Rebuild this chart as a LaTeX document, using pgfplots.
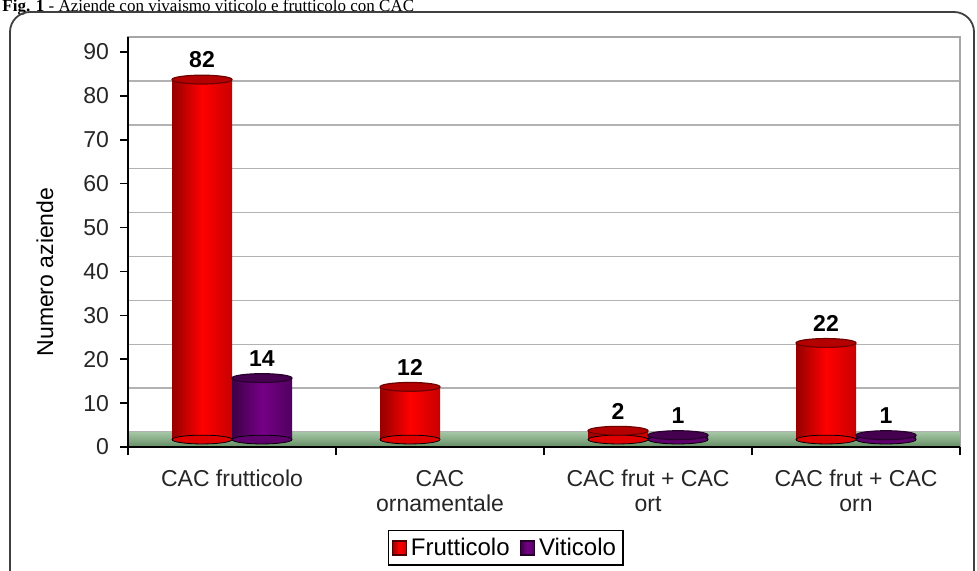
\documentclass[border=0pt]{standalone}
\usepackage{pgfplots}
\usepackage{pgfplotstable}
\pgfplotsset{compat=1.18}
\usepackage{fontspec}
\setmainfont{Liberation Sans}
\newfontfamily\titlefont{Liberation Serif}
\definecolor{rL}{RGB}{150,0,0}
\definecolor{rM}{RGB}{255,0,0}
\definecolor{rR}{RGB}{200,0,0}
\definecolor{rB}{RGB}{225,0,0}
\definecolor{rCap}{RGB}{180,0,0}
\definecolor{rCapE}{RGB}{110,0,0}
\definecolor{pL}{RGB}{60,0,70}
\definecolor{pM}{RGB}{118,0,135}
\definecolor{pR}{RGB}{80,0,95}
\definecolor{pB}{RGB}{95,0,110}
\definecolor{pCap}{RGB}{70,0,80}
\definecolor{pCapE}{RGB}{40,0,45}
\definecolor{floorT}{RGB}{165,198,165}
\definecolor{floorB}{RGB}{100,142,100}
\pgfdeclareplotmark{cap}{\pgfpathellipse{\pgfpointorigin}{\pgfqpoint{15pt}{0pt}}{\pgfqpoint{0pt}{2.2pt}}\pgfusepathqfillstroke}
\pgfplotstableread{
x v
0 82
1 12
2 2
3 22
}\frut
\pgfplotstableread{
x v
0 14
2 1
3 1
}\viti
\begin{document}
\begin{tikzpicture}
\useasboundingbox (0pt,0pt) rectangle (488.5pt,285pt);
\clip (0pt,0pt) rectangle (488.5pt,285pt);
\node[anchor=base west, font=\titlefont\fontsize{8.5}{10}\selectfont, inner sep=0] at (1pt,279.5pt) {\textbf{Fig. 1} - Aziende con vivaismo viticolo e frutticolo con CAC};
\draw[rounded corners=10pt, line width=0.9pt, black!75] (5pt,279pt) rectangle (487pt,-15pt);
\node[rotate=90, font=\fontsize{11.5}{13}\selectfont] at (22.5pt,149pt) {Numero aziende};
% background wall
\begin{axis}[at={(64pt,61.5pt)}, anchor=south west, scale only axis, width=416pt, height=205pt,
  xmin=-0.5, xmax=3.5, ymin=-1.7, ymax=91.7,
  xtick=\empty, ytick={1.7,11.7,21.7,31.7,41.7,51.7,61.7,71.7,81.7,91.7}, yticklabels={},
  major tick length=0pt, ymajorgrids, grid style={gray!60, line width=0.7pt},
  axis line style={gray!70, line width=0.8pt}]
\addplot[draw=none, top color=floorT, bottom color=floorB] coordinates {(-0.5,-1.7) (3.5,-1.7) (3.5,1.7) (-0.5,1.7)} -- cycle;
\end{axis}
% main axis
\begin{axis}[at={(64pt,61.5pt)}, anchor=south west, scale only axis, width=416pt, height=205pt,
  xmin=-0.5, xmax=3.5, ymin=-1.7, ymax=91.7,
  axis x line*=bottom, axis y line*=left, axis line style={-, black, line width=0.8pt},
  tick align=outside, major tick length=4pt, minor tick length=4pt,
  tick style={black, line width=0.8pt},
  ytick={-1.7,8.3,18.3,28.3,38.3,48.3,58.3,68.3,78.3,88.3},
  yticklabels={0,10,20,30,40,50,60,70,80,90},
  xtick={0,1,2,3},
  xticklabels={CAC frutticolo, CAC\\ornamentale, CAC frut + CAC\\ort, CAC frut + CAC\\orn},
  minor xtick={-0.5,0.5,1.5,2.5,3.5},
  every major x tick/.append style={draw=none},
  ticklabel style={font=\fontsize{11.5}{12.5}\selectfont, text=black!85},
  xticklabel style={align=center, yshift=-4pt},
  yticklabel style={xshift=-2pt},
  legend style={at={(0.454,-0.246)}, anchor=center, draw=black, line width=0.8pt,
    font=\fontsize{12}{14}\selectfont, inner sep=1.5pt,
    /tikz/every even column/.append style={column sep=3pt}},
  legend columns=2,
  bar width=30pt,
]
% bottom caps
\addplot[forget plot, only marks, mark=cap, mark options={fill=rB, draw=none}] table[x expr=\thisrow{x}-0.1442, y expr=0] {\frut};
\addplot[forget plot, only marks, mark=cap, mark options={fill=pB, draw=none}] table[x expr=\thisrow{x}+0.1442, y expr=0] {\viti};
% bars
\addplot[ybar, bar shift=-15pt, draw=none, left color=rL, right color=rR, middle color=rM,
  legend image code/.code={\draw[fill=red, draw=black!70!red, line width=0.7pt] (0pt,-3.5pt) rectangle (7pt,3.5pt);}] coordinates {(0,82)};
\addlegendentry{Frutticolo}
\addplot[ybar, bar shift=15pt, draw=none, left color=pL, right color=pR, middle color=pM,
  legend image code/.code={\draw[fill=pM, draw=black!70!pM, line width=0.7pt] (0pt,-3.5pt) rectangle (7pt,3.5pt);}] coordinates {(0,14)};
\addlegendentry{Viticolo}
\addplot[forget plot, ybar, bar shift=-15pt, draw=none, left color=rL, right color=rR, middle color=rM] coordinates {(1,12)};
\addplot[forget plot, ybar, bar shift=-15pt, draw=none, left color=rL, right color=rR, middle color=rM] coordinates {(2,2)};
\addplot[forget plot, ybar, bar shift=-15pt, draw=none, left color=rL, right color=rR, middle color=rM] coordinates {(3,22)};
\addplot[forget plot, ybar, bar shift=15pt, draw=none, left color=pL, right color=pR, middle color=pM] coordinates {(2,1)};
\addplot[forget plot, ybar, bar shift=15pt, draw=none, left color=pL, right color=pR, middle color=pM] coordinates {(3,1)};
% top caps with labels
\addplot[forget plot, only marks, mark=cap, mark options={fill=rCap, draw=rCapE, line width=0.6pt},
  nodes near coords={\bfseries\pgfmathprintnumber[assume math mode=true]{\pgfplotspointmeta}}, point meta=explicit,
  every node near coord/.append style={font=\fontsize{11.5}{13}\selectfont, anchor=south, yshift=5.5pt, inner sep=0pt}]
  table[x expr=\thisrow{x}-0.1442, y=v, meta=v] {\frut};
\addplot[forget plot, only marks, mark=cap, mark options={fill=pCap, draw=pCapE, line width=0.6pt},
  nodes near coords={\bfseries\pgfmathprintnumber[assume math mode=true]{\pgfplotspointmeta}}, point meta=explicit,
  every node near coord/.append style={font=\fontsize{11.5}{13}\selectfont, anchor=south, yshift=5.5pt, inner sep=0pt}]
  table[x expr=\thisrow{x}+0.1442, y=v, meta=v] {\viti};
\end{axis}
\end{tikzpicture}
\end{document}
